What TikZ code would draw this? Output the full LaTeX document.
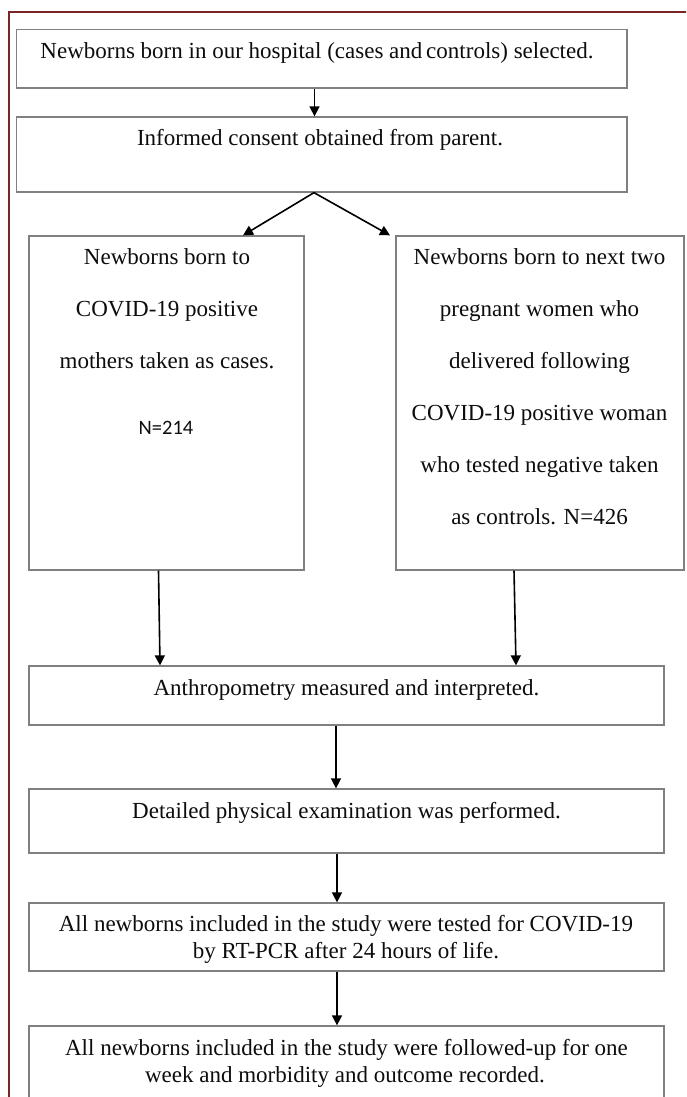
\documentclass[tikz,border=0pt]{standalone}
\usepackage{fontspec}
\setmainfont{Liberation Serif}
\newfontfamily\calibfont{Carlito}
\usetikzlibrary{arrows.meta,calc}
\definecolor{framecol}{HTML}{7A2626}
\definecolor{boxline}{HTML}{808080}
\tikzset{
  stage/.style={draw=boxline, line width=1.3pt, inner sep=0pt},
  txt/.style={anchor=base, inner sep=0pt, text=black!95, font=\fontsize{23}{27}\selectfont},
  ntxt/.style={anchor=base, inner sep=0pt, text=black!95, font=\calibfont\fontsize{20.5}{24}\selectfont},
  flow/.style={line width=1.6pt, draw=black, -{Triangle[length=10pt,width=10pt]}},
  outerframe/.style={draw=framecol, line width=1.3pt}
}
\begin{document}
\begin{tikzpicture}[x=1pt,y=-1pt]
\useasboundingbox (0,0) rectangle (686,1097);
\clip (0,0) rectangle (686,1097);
\fill[white] (0,0) rectangle (686,1097);
% outer frame
\draw[outerframe] (9,1110) -- (9,12) -- (700,12);

% boxes
\node[stage, minimum width=610.5pt, minimum height=58.5pt] (b1) at (321.75,58.75) {};
\node[stage, minimum width=610.5pt, minimum height=75pt] (b2) at (321.75,154.5) {};
\node[stage, minimum width=275pt, minimum height=334pt] (b3) at (166.5,403) {};
\node[stage, minimum width=288pt, minimum height=334pt] (b4) at (540,403) {};
\node[stage, minimum width=635pt, minimum height=59pt] (b5) at (346.5,695.5) {};
\node[stage, minimum width=635pt, minimum height=64pt] (b6) at (346.5,821) {};
\node[stage, minimum width=635pt, minimum height=68pt] (b7) at (346.5,937) {};
\node[stage, minimum width=635pt, minimum height=100pt] (b8) at (346.5,1076) {};

% texts
\node[txt] (t1) at (317,59) {Newborns born in our hospital (cases and\,controls) selected.};
\node[txt] (t2) at (320,146) {Informed consent obtained from parent.};

\node[txt] (t3a) at (167,264) {Newborns born to};
\node[txt] (t3b) at (167,316) {COVID-19 positive};
\node[txt] (t3c) at (167,368) {mothers taken as cases.};
\node[ntxt] (t3d) at (166,434) {N=214};

\node[txt] (t4a) at (539.5,264) {Newborns born to next two};
\node[txt] (t4b) at (539.5,316) {pregnant women who};
\node[txt] (t4c) at (539.5,368) {delivered following};
\node[txt] (t4d) at (539.5,420) {COVID-19 positive woman};
\node[txt] (t4e) at (539.5,472) {who tested negative taken};
\node[txt] (t4f) at (539.5,524) {as controls. N=426};

\node[txt] (t5) at (346.5,695) {Anthropometry measured and interpreted.};
\node[txt] (t6) at (346.5,818) {Detailed physical examination was performed.};
\node[txt] (t7a) at (346,931) {All newborns included in the study were tested for COVID-19};
\node[txt] (t7b) at (346,958) {by RT-PCR after 24 hours of life.};
\node[txt] (t8a) at (346.5,1055) {All newborns included in the study were followed-up for one};
\node[txt] (t8b) at (345,1082) {week and morbidity and outcome recorded.};

% connector x positions
\coordinate (x12) at (314.5,0);
\coordinate (xap) at (314,0);
\coordinate (xl) at (243,0);
\coordinate (xr) at (390,0);
\coordinate (x3s) at (158.5,0);
\coordinate (x3e) at (160,0);
\coordinate (x4s) at (514,0);
\coordinate (x4e) at (516,0);
\coordinate (x56) at (336,0);
\coordinate (x67) at (337,0);
\coordinate (x78) at (337,0);

% connectors
\draw[flow] (b1.south -| x12) -- (b2.north -| x12);
\draw[flow] (b2.south -| xap) -- (b3.north -| xl);
\draw[flow] (b2.south -| xap) -- (b4.north -| xr);
\draw[flow] (b3.south -| x3s) -- (b5.north -| x3e);
\draw[flow] (b4.south -| x4s) -- (b5.north -| x4e);
\draw[flow] (b5.south -| x56) -- (b6.north -| x56);
\draw[flow] (b6.south -| x67) -- (b7.north -| x67);
\draw[flow] (b7.south -| x78) -- (b8.north -| x78);
\end{tikzpicture}
\end{document}
